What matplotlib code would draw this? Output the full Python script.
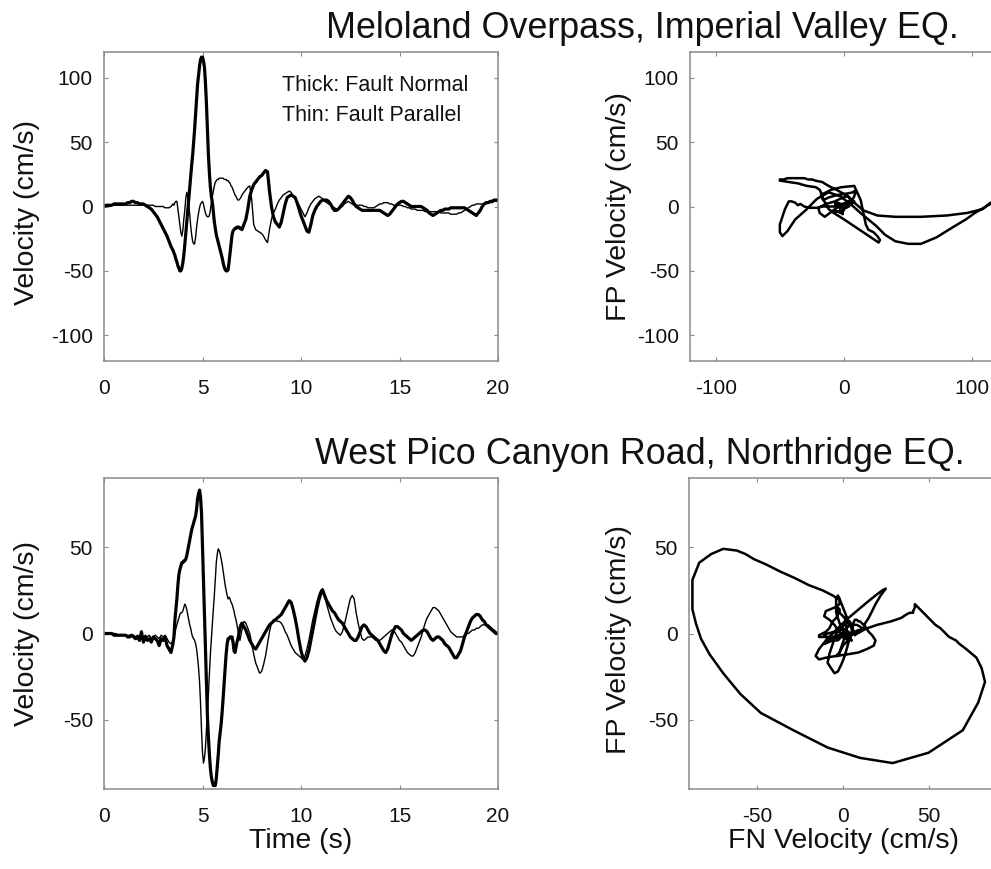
import numpy as np
import matplotlib.pyplot as plt

plt.rcParams['font.family'] = ['Liberation Sans', 'DejaVu Sans']
plt.rcParams['axes.unicode_minus'] = False

# sample times: 0.1 s, refined to 0.05 s through the strong-motion window
t = np.concatenate([np.linspace(0.0, 3.5, 36),
                    np.linspace(3.55, 7.0, 70),
                    np.linspace(7.1, 20.0, 130)])

# Meloland Overpass, Imperial Valley -- velocities in cm/s
imperial_fn = [
    # 0.0 - 3.5 s
    0, 1, 1, 1, 1, 2, 2, 2, 2, 2,
    2, 2, 3, 3, 4, 4, 3, 3, 2, 2,
    2, 1, 0, -1, -2, -4, -6, -8, -11, -14,
    -17, -20, -23, -27, -31, -34,
    # 3.55 - 7.0 s
    -36, -38, -41, -43, -46, -48, -50, -50, -48, -44,
    -38, -30, -21, -12, -3, 5, 14, 25, 32, 40,
    50, 60, 72, 85, 95, 102, 109, 114, 116, 116,
    113, 108, 96, 80, 60, 40, 26, 15, 8, 3,
    -4, -12, -17, -22, -25, -28, -31, -34, -37, -40,
    -44, -47, -49, -50, -50, -49, -43, -36, -29, -22,
    -19, -18, -17, -17, -16, -16, -16, -17, -17, -18,
    # 7.1 - 20.0 s
    -14, -10, -2, 8, 13, 17, 19, 21, 23,
    24, 26, 28, 27, 12, 0, -8, -12, -14, -16,
    -12, -5, 2, 7, 8, 9, 8, 7, 3, -2,
    -7, -11, -15, -19, -20, -14, -7, -3, 0, 2,
    4, 5, 5, 5, 4, 2, -1, -3, -3, -2,
    0, 2, 4, 6, 8, 7, 5, 2, 0, -1,
    -2, -3, -3, -3, -3, -3, -3, -3, -3, -3,
    -3, -4, -5, -6, -7, -6, -4, -2, 0, 2,
    3, 4, 4, 3, 2, 1, 0, 0, 0, 0,
    0, 0, -1, -2, -3, -5, -6, -7, -6, -5,
    -4, -3, -3, -2, -2, -2, -1, -1, -1, -1,
    -1, -1, -1, -1, -2, -3, -4, -5, -6, -7,
    -5, -3, 0, 2, 3, 3, 4, 4, 5, 5,
    5,
]
imperial_fp = [
    0, 0, 0, 0, 1, 1, 1, 1, 1, 1,
    1, 1, 1, 1, 1, 1, 1, 1, 1, 1,
    1, 1, 1, 1, 1, 1, 0, 0, 0, 0,
    0, -1, -1, -1, 0, 2,
    1, 3, 4, 4, -2, -8, -14, -20, -23, -19,
    -10, -3, 6, 11, 8, 2, -6, -15, -22, -27,
    -29, -29, -24, -16, -10, -5, -1, 2, 3, 4,
    2, -2, -5, -7, -8, -8, -7, -3, 3, 8,
    12, 16, 19, 20, 21, 21, 22, 22, 22, 22,
    22, 21, 21, 21, 20, 20, 19, 18, 16, 15,
    13, 11, 9, 8, 6, 5, 5, 6, 7, 9,
    11, 13, 15, 16, 5, -14, -18, -19, -20,
    -21, -23, -26, -28, -18, -10, -5, -2, 2, 5,
    7, 9, 10, 11, 12, 11, 8, 6, 4, 1,
    -2, -5, -8, -5, -1, 2, 4, 6, 7, 8,
    7, 6, 4, 3, 2, 1, 0, -1, -2, -2,
    -1, 0, 2, 3, 4, 3, 2, 1, 1, 1,
    1, 1, 0, 0, -1, -1, -1, -1, 0, 1,
    2, 2, 3, 3, 3, 2, 2, 1, 1, 1,
    1, 1, 0, 0, -1, -1, -2, -2, -2, -3,
    -3, -3, -3, -4, -4, -4, -4, -4, -4, -4,
    -4, -5, -5, -5, -5, -5, -6, -6, -6, -6,
    -5, -5, -4, -3, -2, -1, 0, 1, 1, 2,
    2, 2, 2, 2, 2, 3, 3, 3, 4, 4,
    4,
]

# West Pico Canyon Road, Northridge -- velocities in cm/s
northridge_fn = [
    0, 0, 0, 0, 0, -1, -1, -1, -1, -1,
    -1, -1, -2, -2, -1, -2, -3, -2, -4, 1,
    -5, -2, -4, -3, -5, -2, -3, -4, -7, -3,
    -4, -2, -7, -9, -11, -6,
    -2, 8, 14, 20, 28, 34, 37, 39, 41, 41,
    42, 42, 43, 45, 48, 51, 54, 57, 60, 62,
    64, 66, 68, 72, 78, 81, 83, 79, 70, 50,
    29, 10, -9, -29, -48, -60, -70, -78, -83, -86,
    -88, -88, -88, -84, -77, -70, -62, -57, -52, -45,
    -37, -28, -20, -12, -6, -3, -3, -2, -2, -2,
    -5, -10, -11, -8, -5, -3, 0, 3, 5, 6,
    4, 2, -1, -4, -6, -8, -9, -7, -5,
    -3, -1, 1, 3, 5, 6, 7, 8, 9, 10,
    11, 13, 15, 17, 19, 18, 14, 9, 3, -4,
    -10, -14, -16, -14, -10, -4, 2, 8, 14, 19,
    23, 25, 22, 19, 17, 15, 13, 12, 10, 8,
    7, 6, 4, 2, 0, -2, -3, -4, -4, -2,
    1, 4, 5, 4, 2, 0, -1, -2, -3, -4,
    -6, -8, -10, -11, -9, -5, -1, 2, 4, 4,
    3, 2, 0, -1, -2, -3, -4, -3, -2, -1,
    0, 1, 2, 2, 1, -1, -3, -4, -3, -2,
    -2, -3, -4, -6, -7, -8, -10, -12, -14, -14,
    -12, -10, -6, -2, 1, 4, 7, 9, 10, 11,
    11, 10, 8, 7, 5, 4, 3, 2, 1, 0,
    0,
]
northridge_fp = [
    0, 0, 0, 0, 0, 0, 0, -1, -1, -1,
    -1, -1, -1, -1, -1, -1, -2, -1, -2, -1,
    -2, -1, -2, -1, -3, -2, -1, -2, -3, -1,
    -2, -1, -3, -5, -6, -4,
    -2, 0, 3, 5, 7, 9, 11, 12, 12, 13,
    15, 17, 16, 14, 11, 8, 5, 3, 0, -2,
    -3, -4, -6, -9, -14, -20, -28, -40, -56, -69,
    -75, -72, -66, -56, -46, -35, -23, -12, -3, 6,
    14, 22, 31, 41, 46, 49, 48, 46, 43, 40,
    36, 32, 28, 25, 22, 20, 21, 20, 18, 17,
    15, 13, 10, 8, 5, 2, -2, -4, -1, 2,
    7, 6, 3, 0, -6, -12, -17, -20, -23,
    -22, -18, -13, -6, 1, 6, 8, 8, 7, 7,
    6, 4, 1, -1, -4, -7, -9, -11, -12, -13,
    -14, -15, -13, -9, -4, 2, 8, 13, 18, 22,
    25, 26, 22, 17, 13, 9, 6, 3, 1, 0,
    -1, 1, 5, 10, 15, 20, 22, 20, 12, 6,
    1, -3, -4, -3, -2, -2, -2, -3, -4, -4,
    -4, -3, -2, -1, 0, 1, 2, 2, 0, -2,
    -4, -5, -7, -9, -11, -12, -13, -13, -11, -8,
    -5, -2, 2, 6, 9, 11, 13, 15, 15, 14,
    13, 11, 9, 7, 5, 3, 1, 0, -1, -2,
    -2, -2, -2, -1, 0, 0, 1, 2, 2, 3,
    3, 4, 5, 5, 5, 5, 4, 3, 2, 1,
    0,
]

W, H = 991, 869
fig = plt.figure(figsize=(W / 100, H / 100), dpi=100)


def box(left, top, width, height):
    # pixel box -> figure fraction
    return [left / W, 1 - (top + height) / H, width / W, height / H]


ax1 = fig.add_axes(box(104, 52, 394, 309))
ax2 = fig.add_axes(box(690, 52, 308, 309))
ax3 = fig.add_axes(box(104, 478, 394, 311))
ax4 = fig.add_axes(box(689, 478, 308, 311))

frame = '#8a8a8a'
for ax in (ax1, ax2, ax3, ax4):
    for sp in ax.spines.values():
        sp.set_color(frame)
        sp.set_linewidth(1.1)
    ax.tick_params(direction='in', length=3, width=0.8, color=frame,
                   top=True, right=True, labelsize=15, labelcolor='#111111')
    ax.tick_params(axis='x', pad=13)
    ax.tick_params(axis='y', pad=8)

# time histories
ax1.plot(t, imperial_fn, color='black', lw=2.3)
ax1.plot(t, imperial_fp, color='black', lw=1.0)
ax3.plot(t, northridge_fn, color='black', lw=2.3)
ax3.plot(t, northridge_fp, color='black', lw=1.0)

# particle motion: fault normal vs fault parallel
ax2.plot(imperial_fn, imperial_fp, color='black', lw=1.8)
ax4.plot(northridge_fn, northridge_fp, color='black', lw=1.8)

ax1.set_xlim(0, 20)
ax1.set_ylim(-120, 120)
ax1.set_xticks([0, 5, 10, 15, 20])
ax1.set_yticks([-100, -50, 0, 50, 100])
ax3.set_xlim(0, 20)
ax3.set_ylim(-90, 90)
ax3.set_xticks([0, 5, 10, 15, 20])
ax3.set_yticks([-50, 0, 50])

ax2.set_xlim(-120, 120)
ax2.set_ylim(-120, 120)
ax2.set_xticks([-100, 0, 100])
ax2.set_yticks([-100, -50, 0, 50, 100])
ax4.set_xlim(-90, 90)
ax4.set_ylim(-90, 90)
ax4.set_xticks([-50, 0, 50])
ax4.set_yticks([-50, 0, 50])

lab = dict(fontsize=20.5, color='#111111')
ax1.set_ylabel('Velocity (cm/s)', **lab)
ax3.set_ylabel('Velocity (cm/s)', **lab)
ax2.set_ylabel('FP Velocity (cm/s)', **lab)
ax4.set_ylabel('FP Velocity (cm/s)', **lab)
ax3.set_xlabel('Time (s)', **lab)
ax4.set_xlabel('FN Velocity (cm/s)', **lab)
ax1.yaxis.set_label_coords(-0.162, 0.48)
ax3.yaxis.set_label_coords(-0.162, 0.5)
ax2.yaxis.set_label_coords(-0.188, 0.5)
ax4.yaxis.set_label_coords(-0.185, 0.48)
ax3.xaxis.set_label_coords(0.5, -0.125)
ax4.xaxis.set_label_coords(0.5, -0.125)

ax1.text(0.452, 0.893, 'Thick: Fault Normal', transform=ax1.transAxes,
         fontsize=15.5, va='center', color='#111111')
ax1.text(0.452, 0.796, 'Thin: Fault Parallel', transform=ax1.transAxes,
         fontsize=15.5, va='center', color='#111111')

fig.text(642 / W, 1 - 28 / H, 'Meloland Overpass, Imperial Valley EQ.',
         ha='center', va='center', fontsize=25.8, color='#111111')
fig.text(640 / W, 1 - 455 / H, 'West Pico Canyon Road, Northridge EQ.',
         ha='center', va='center', fontsize=25.8, color='#111111')

fig.savefig('out.png', dpi=100)
